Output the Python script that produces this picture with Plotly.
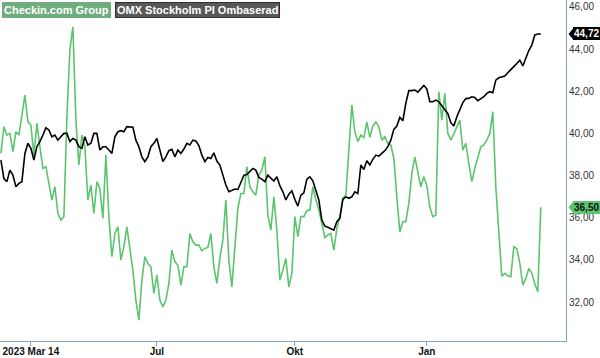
import plotly.graph_objects as go

# Trading-day index based sampling (every ~1.5 trading days)
checkin = [
    39.05, 40.32, 39.92, 40.00, 39.13, 40.08, 39.92, 40.95, 41.82, 40.55,
    40.40, 38.97, 40.48, 39.37, 38.34, 38.42, 37.71, 36.84, 37.47, 36.20,
    35.89, 36.05, 40.79, 43.96, 45.06, 40.63, 38.50, 39.92, 39.37, 36.84,
    37.55, 36.20, 37.71, 37.39, 35.97, 38.97, 36.05, 34.15, 35.25, 35.57,
    33.99, 34.62, 35.57, 34.46, 33.51, 32.09, 31.14, 33.04, 34.15, 33.83,
    33.67, 32.41, 33.28, 32.09, 31.77, 32.09, 32.88, 34.46, 33.91, 33.75,
    32.80, 33.67, 33.67, 35.25, 34.86, 34.70, 34.70, 34.43, 34.54, 34.59,
    35.25, 33.67, 32.88, 34.07, 34.94, 36.84, 33.99, 32.72, 34.62, 36.44,
    37.15, 37.15, 38.42, 37.47, 37.23, 37.07, 38.02, 38.26, 38.89, 36.12,
    35.41, 36.99, 35.41, 33.04, 33.51, 34.07, 32.72, 33.36, 36.05, 35.10,
    36.05, 36.05, 36.33, 36.36, 37.47, 36.84, 36.39, 35.70, 35.06, 35.18,
    35.25, 34.46, 35.49, 36.05, 36.92, 37.07, 39.13, 41.35, 40.08, 39.61,
    39.92, 39.80, 40.55, 39.81, 40.35, 40.55, 40.32, 39.68, 39.84, 39.53,
    39.45, 38.81, 36.99, 35.33, 35.81, 35.81, 36.68, 38.10, 38.89, 38.10,
    37.47, 37.94, 37.52, 36.52, 36.05, 36.12, 41.98, 40.63, 41.90, 40.00,
    39.68, 39.97, 40.32, 40.63, 39.21, 39.53, 38.58, 37.71, 38.34, 38.81,
    39.37, 39.45, 39.68, 40.00, 41.03, 37.47, 35.52, 33.23, 33.36, 33.24,
    33.20, 34.62, 34.54, 33.83, 32.80, 33.12, 33.59, 33.36, 32.85, 32.49,
    36.50,
]

omx_rebased = [
    38.73, 37.86, 37.71, 38.26, 38.02, 37.47, 37.63, 37.71, 39.05, 39.53,
    39.29, 38.73, 39.37, 39.61, 39.92, 40.27, 40.16, 39.84, 39.92, 39.68,
    39.84, 40.00, 40.00, 39.61, 39.76, 39.68, 39.37, 39.29, 39.84, 39.45,
    39.53, 40.00, 40.00, 39.21, 39.37, 39.37, 39.21, 39.05, 39.84, 40.08,
    40.13, 40.08, 40.32, 40.32, 40.29, 39.68, 39.37, 38.89, 38.66, 38.89,
    39.37, 39.53, 39.76, 39.21, 38.66, 38.89, 39.18, 39.24, 38.89, 39.21,
    39.05, 39.26, 39.53, 39.45, 39.68, 39.64, 39.42, 38.97, 38.66, 38.86,
    38.81, 39.08, 38.69, 38.50, 38.02, 37.55, 37.23, 37.31, 37.36, 37.34,
    37.71, 38.01, 38.05, 38.18, 38.34, 38.26, 37.91, 37.83, 37.71, 38.02,
    37.86, 37.74, 37.94, 37.52, 37.23, 36.84, 37.12, 37.28, 36.87, 36.55,
    37.07, 37.18, 37.83, 37.94, 37.75, 37.31, 36.84, 35.89, 35.60, 35.55,
    35.49, 35.41, 35.81, 35.97, 36.87, 36.99, 36.92, 36.99, 37.23, 37.15,
    38.50, 38.29, 38.70, 38.50, 38.77, 38.97, 38.92, 39.05, 39.18, 39.37,
    39.68, 40.19, 40.35, 40.76, 40.60, 41.43, 42.03, 42.03, 42.06, 41.96,
    42.14, 42.28, 42.11, 41.50, 41.50, 41.58, 41.50, 41.30, 41.14, 40.95,
    40.51, 40.35, 40.79, 41.16, 41.46, 41.65, 41.66, 41.74, 41.71, 41.55,
    41.66, 41.74, 41.90, 41.98, 41.93, 42.53, 42.64, 42.69, 42.72, 42.88,
    43.01, 43.17, 43.32, 43.48, 43.20, 43.56, 43.93, 44.19, 44.67, 44.72,
    44.72,
]

tick_index = [10, 52, 98, 142]
tick_labels = ["2023 Mar 14", "Jul", "Okt", "Jan"]
y_ticks = [32, 34, 36, 38, 40, 42, 44, 46]
series_names = ["Checkin.com Group", "OMX Stockholm PI Ombaserad"]

GREEN = "#5cc46f"
AXIS = "#7fa6c0"
FONT = "Liberation Sans, Arial, sans-serif"

x = list(range(len(checkin)))

fig = go.Figure()
fig.add_trace(go.Scatter(x=x, y=checkin, mode="lines", name=series_names[0],
                         line=dict(color=GREEN, width=1.6), hoverinfo="skip"))
fig.add_trace(go.Scatter(x=x, y=omx_rebased, mode="lines", name=series_names[1],
                         line=dict(color="#000000", width=1.6), hoverinfo="skip"))

fig.update_layout(
    width=600, height=358,
    margin=dict(l=0, r=34, t=0, b=17, autoexpand=False),
    paper_bgcolor="white", plot_bgcolor="white",
    showlegend=False,
    separators=", ",
    font=dict(family=FONT, size=11, color="#333"),
    xaxis=dict(range=[-0.3, 188.4], showgrid=False, zeroline=False, automargin=False,
               tickmode="array", tickvals=tick_index, ticktext=tick_labels,
               ticks="outside", ticklen=4, tickcolor=AXIS, tickwidth=1,
               showline=True, linecolor=AXIS, linewidth=1,
               ticklabeloverflow="allow", ticklabelstandoff=-3,
               tickfont=dict(family=FONT, size=10, color="#111", weight="bold")),
    yaxis=dict(range=[30.15, 46.33], side="right", showgrid=False, zeroline=False, automargin=False,
               tickmode="array", tickvals=y_ticks, tickformat=".2f",
               ticks="", showline=True, linecolor=AXIS, linewidth=1,
               ticklabeloverflow="allow",
               tickfont=dict(family=FONT, size=10, color="#333")),
)

# Legend boxes
fig.add_annotation(xref="paper", yref="paper", x=0.004, y=0.995, xanchor="left", yanchor="top",
                   text="<b>%s</b>" % series_names[0], showarrow=False,
                   font=dict(family=FONT, size=11, color="white"),
                   bgcolor="#6fac7e", bordercolor="#6fac7e", borderpad=1)
fig.add_annotation(xref="paper", yref="paper", x=0.204, y=0.995, xanchor="left", yanchor="top",
                   text="<b>%s</b>" % series_names[1], showarrow=False,
                   font=dict(family=FONT, size=11, color="white"),
                   bgcolor="#585858", bordercolor="#303030", borderpad=1)

# Last-value labels on the right axis
def last_label(value, bg, fg):
    fig.add_annotation(xref="paper", yref="y", x=1.0124, y=value, xanchor="left", yanchor="middle",
                       text="<b>%s</b>" % ("%.2f" % value).replace(".", ","), showarrow=False,
                       font=dict(family=FONT, size=10, color=fg),
                       bgcolor=bg, bordercolor=bg, borderpad=0)
    fig.add_shape(type="path", xref="paper", yref="y",
                  path="M 1.0045,%f L 1.0126,%f L 1.0126,%f Z" % (value, value + 0.26, value - 0.26),
                  fillcolor=bg, line=dict(color=bg, width=0))

last_label(omx_rebased[-1], "#000000", "white")
last_label(checkin[-1], GREEN, "#111")

fig.write_html("out.html", config={"displayModeBar": False},
               post_script="document.body.style.margin='0';document.body.style.padding='0';")
